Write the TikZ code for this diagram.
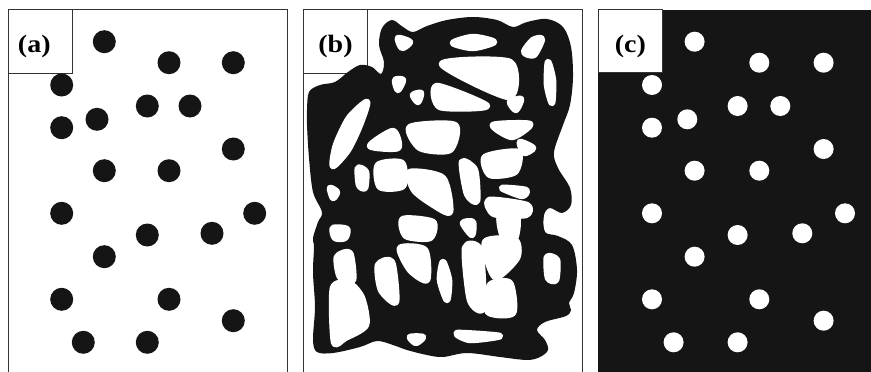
\documentclass[tikz,border=0pt]{standalone}
\usepackage{fontspec}
\newfontfamily\labfont[FakeStretch=1.12]{Liberation Serif}
\newcommand\myhole[1]{\filldraw[hole] plot[smooth cycle,tension=0.45] coordinates {#1};}
\begin{document}
\begin{tikzpicture}[x=1pt,y=-1pt]
\definecolor{ink}{RGB}{21,21,21}
\tikzset{
  frame/.style={draw=black!80,line width=0.9pt},
  lab/.style={font=\labfont\bfseries\fontsize{25}{25}\selectfont,anchor=base,inner sep=0pt},
  hole/.style={fill=white,draw=white,line width=6.5pt,line join=round},
}
\useasboundingbox (0,0) rectangle (871,372);
\clip (0,0) rectangle (871,372);
\def\dotlist{104.3/41.7,169/62.7,233.3/62.7,61.7/85,147.3/106,190/106,97/119.3,61.7/127.7,233.3/149,104.3/170.7,169/170.7,61.7/213.3,254.7/213.3,147.3/235,212/233.3,104.3/256.7,61.7/299.3,169/299.3,233.3/320.7,83.3/342.3,147.3/342.3}
% ---------- panel (a)
\draw[frame,fill=white] (8.3,9.7) rectangle (287.3,390);
\draw[frame] (8.3,9.7) rectangle (72,73.3);
\foreach \x/\y in \dotlist { \fill[ink] (\x,\y) circle (11.5); }
\node[lab] (la) at (34.3,52.8) {(a)};
% ---------- panel (b)
\draw[frame,fill=white] (303.3,9.7) rectangle (582.7,390);
\draw[frame] (303.3,9.7) rectangle (367.7,73.3);
\fill[ink] plot[smooth cycle,tension=0.55] coordinates {
 (307,110) (309,92) (320,85) (335,82) (348,72) (360,65) (372,67) (381,74) (384,62) (379,45)
 (382,28) (392,20) (403,27) (413,32) (427,26) (447,20) (473,17) (497,20) (513,27) (527,22)
 (547,19) (563,27) (571,47) (573,77) (570,105) (563,125) (554,152) (558,168) (570,188) (571,205)
 (562,213) (550,208) (544,215) (545,232) (558,236) (572,245) (577,270) (574,293) (569,303) (571,310)
 (566,316) (545,322) (537,330) (545,340) (548,350) (540,357) (527,360) (500,357) (467,353) (443,357)
 (427,355) (407,350) (393,345) (377,341) (360,347) (333,353) (317,352) (313,340) (315,307) (313,273)
 (314,247) (313,238) (318,222) (322,212) (313,192) (309,158) (307,125)};
\myhole{(398,38) (410,42) (402,48)}
\myhole{(453,43) (473,37) (494,42) (473,48)}
\myhole{(524,52) (533,40) (542,39) (534,55)}
\myhole{(548,62) (553,80) (552,103) (547,85)}
\myhole{(442,64) (510,62) (509,97)}
\myhole{(437,86) (487,106) (440,107)}
\myhole{(510,102) (521,99) (516,110)}
\myhole{(395,80) (403,80) (398,90)}
\myhole{(413,95) (421,93) (418,102)}
\myhole{(367,102) (360,125) (348,150) (333,166) (336,145) (349,118)}
\myhole{(370,146) (393,131) (398,148)}
\myhole{(410,127) (455,125) (450,150) (420,148)}
\myhole{(378,165) (402,163) (403,186) (380,187)}
\myhole{(358,168) (366,172) (365,188) (359,185)}
\myhole{(330,188) (337,192) (333,198)}
\myhole{(410,172) (443,178) (450,212) (432,204) (414,190)}
\myhole{(462,162) (475,170) (477,201) (467,194)}
\myhole{(485,157) (518,152) (515,172) (490,175)}
\myhole{(493,125) (530,124) (512,137)}
\myhole{(520,142) (533,148) (524,153)}
\myhole{(502,188) (526,190) (522,196)}
\myhole{(489,200) (527,205) (526,215) (494,214)}
\myhole{(333,228) (347,229) (345,238) (335,238)}
\myhole{(403,219) (433,222) (430,238) (406,236)}
\myhole{(463,223) (473,222) (472,235)}
\myhole{(500,216) (517,218) (515,238) (503,236)}
\myhole{(337,257) (350,253) (353,280) (340,277)}
\myhole{(333,288) (350,284) (362,298) (366,325) (345,338) (334,342)}
\myhole{(378,265) (392,262) (396,302) (381,290)}
\myhole{(400,248) (425,250) (427,280) (410,270)}
\myhole{(443,262) (449,280) (447,300) (440,280)}
\myhole{(465,248) (480,250) (483,308) (470,300)}
\myhole{(485,242) (515,240) (517,258) (495,277)}
\myhole{(490,285) (510,283) (513,313) (488,312)}
\myhole{(547,257) (557,260) (556,280) (548,278)}
\myhole{(410,337) (423,337) (416,343)}
\myhole{(457,333) (500,336) (470,340)}
\node[lab] (lb) at (335.5,52.8) {(b)};
% ---------- panel (c)
\fill[ink] (598.3,9.7) rectangle (890,390);
\draw[frame,fill=white] (598.3,9.7) rectangle (662.3,72.7);
\begin{scope}[xshift=590.3pt]
\foreach \x/\y in \dotlist { \fill[white] (\x,\y) circle (10); }
\end{scope}
\node[lab] (lc) at (630.3,52.8) {(c)};
\end{tikzpicture}
\end{document}
